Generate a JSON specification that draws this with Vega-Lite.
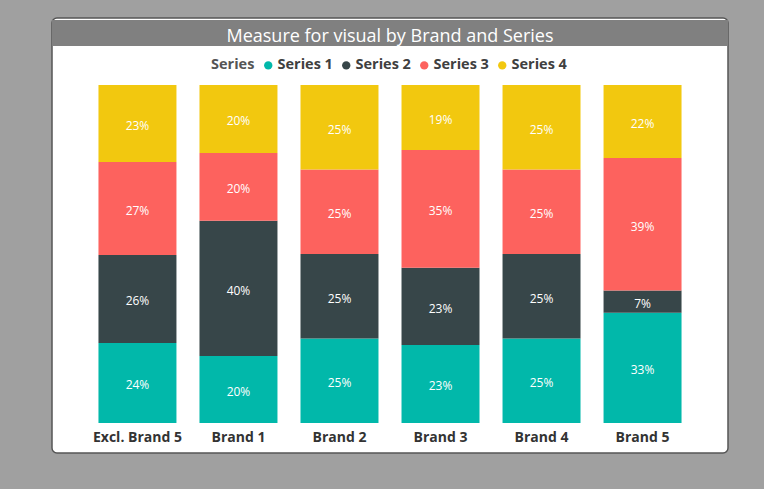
{
  "$schema": "https://vega.github.io/schema/vega-lite/v6.json",
  "width": 676,
  "height": 435,
  "autosize": {"type": "none"},
  "padding": {"left": 52, "top": 18, "right": 36, "bottom": 36},
  "background": "#A0A0A0",
  "config": {
    "view": {"fill": "white", "stroke": "#555555", "strokeWidth": 1.5, "cornerRadius": 5},
    "font": "Open Sans"
  },
  "title": {
    "text": "Measure for visual by Brand and Series",
    "color": "white",
    "fontSize": 18,
    "fontWeight": "normal",
    "font": "Open Sans",
    "anchor": "middle",
    "offset": -28
  },
  "data": {
    "values": [
      {"brand": "Excl. Brand 5", "series": "Series 1", "value": 23.7, "label": "24%"},
      {"brand": "Excl. Brand 5", "series": "Series 2", "value": 26.0, "label": "26%"},
      {"brand": "Excl. Brand 5", "series": "Series 3", "value": 27.5, "label": "27%"},
      {"brand": "Excl. Brand 5", "series": "Series 4", "value": 22.8, "label": "23%"},
      {"brand": "Brand 1", "series": "Series 1", "value": 19.8, "label": "20%"},
      {"brand": "Brand 1", "series": "Series 2", "value": 40.0, "label": "40%"},
      {"brand": "Brand 1", "series": "Series 3", "value": 20.1, "label": "20%"},
      {"brand": "Brand 1", "series": "Series 4", "value": 20.1, "label": "20%"},
      {"brand": "Brand 2", "series": "Series 1", "value": 25, "label": "25%"},
      {"brand": "Brand 2", "series": "Series 2", "value": 25, "label": "25%"},
      {"brand": "Brand 2", "series": "Series 3", "value": 25, "label": "25%"},
      {"brand": "Brand 2", "series": "Series 4", "value": 25, "label": "25%"},
      {"brand": "Brand 3", "series": "Series 1", "value": 23.1, "label": "23%"},
      {"brand": "Brand 3", "series": "Series 2", "value": 22.8, "label": "23%"},
      {"brand": "Brand 3", "series": "Series 3", "value": 34.9, "label": "35%"},
      {"brand": "Brand 3", "series": "Series 4", "value": 19.2, "label": "19%"},
      {"brand": "Brand 4", "series": "Series 1", "value": 25, "label": "25%"},
      {"brand": "Brand 4", "series": "Series 2", "value": 25, "label": "25%"},
      {"brand": "Brand 4", "series": "Series 3", "value": 25, "label": "25%"},
      {"brand": "Brand 4", "series": "Series 4", "value": 25, "label": "25%"},
      {"brand": "Brand 5", "series": "Series 1", "value": 32.6, "label": "33%"},
      {"brand": "Brand 5", "series": "Series 2", "value": 6.6, "label": "7%"},
      {"brand": "Brand 5", "series": "Series 3", "value": 39.2, "label": "39%"},
      {"brand": "Brand 5", "series": "Series 4", "value": 21.6, "label": "22%"}
    ]
  },
  "layer": [
    {
      "data": {"values": [{"top": 1.1923, "bottom": 1.1154}]},
      "mark": {"type": "rect", "color": "#808080"},
      "encoding": {
        "y": {"field": "top", "type": "quantitative", "scale": {"domain": [-0.08876, 1.19822], "nice": false, "zero": false}, "axis": null},
        "y2": {"field": "bottom"}
      }
    },
    {
      "mark": {"type": "bar"},
      "encoding": {
        "x": {
          "field": "brand", "type": "nominal", "sort": null,
          "scale": {"paddingInner": 0.228, "paddingOuter": 0.46},
          "axis": {"title": null, "labelAngle": 0, "domain": false, "ticks": false, "offset": -25, "labelPadding": 2,
                   "labelFontSize": 14, "labelFontWeight": "bold", "labelColor": "#333333", "labelFont": "Open Sans"}
        },
        "y": {"field": "value", "type": "quantitative", "stack": "normalize", "axis": null},
        "order": {"field": "series", "sort": "ascending"},
        "color": {
          "field": "series", "type": "nominal",
          "scale": {"domain": ["Series 1", "Series 2", "Series 3", "Series 4"], "range": ["#01B8AA", "#374649", "#FD625E", "#F2C80F"]},
          "legend": {
            "orient": "none", "legendX": 159, "legendY": 40, "direction": "horizontal",
            "title": "Series", "titleOrient": "left", "titleFontSize": 14.5, "titleFontWeight": "bold", "titleColor": "#555555", "titleFont": "Open Sans",
            "labelFontSize": 14.5, "labelFontWeight": "bold", "labelColor": "#404040", "labelFont": "Open Sans",
            "symbolType": "circle", "symbolSize": 70, "symbolStrokeWidth": 0, "columnPadding": 6, "labelOffset": 2, "titlePadding": 6
          }
        }
      }
    },
    {
      "mark": {"type": "text", "color": "white", "fontSize": 12, "font": "Open Sans", "dy": 2.5},
      "encoding": {
        "x": {"field": "brand", "type": "nominal", "sort": null},
        "y": {"field": "value", "type": "quantitative", "stack": "normalize", "bandPosition": 0.5},
        "detail": {"field": "series"},
        "order": {"field": "series", "sort": "ascending"},
        "text": {"field": "label"}
      }
    }
  ]
}
